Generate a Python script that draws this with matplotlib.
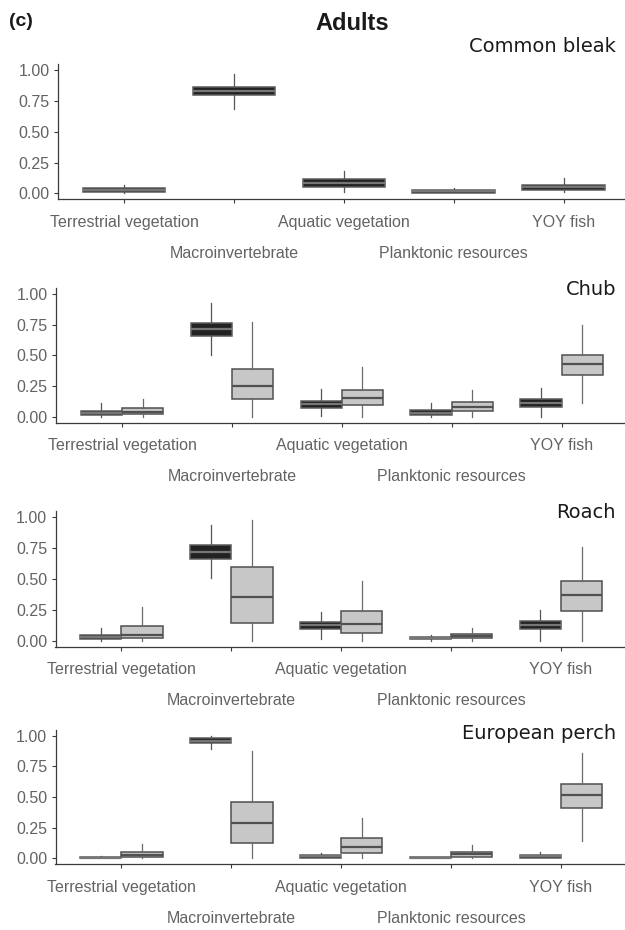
import matplotlib
matplotlib.use("Agg")
import matplotlib.pyplot as plt

# Diet categories (x axis)
categories = ["Terrestrial vegetation", "Macroinvertebrate", "Aquatic vegetation",
              "Planktonic resources", "YOY fish"]
species = ["Common bleak", "Chub", "Roach", "European perch"]

# Box statistics per category: [whisker low, Q1, median, Q3, whisker high]
bleak_dark = [[0.00, 0.010, 0.025, 0.040, 0.07],
              [0.685, 0.795, 0.834, 0.866, 0.97],
              [0.008, 0.055, 0.084, 0.114, 0.18],
              [0.00, 0.005, 0.015, 0.027, 0.045],
              [0.008, 0.030, 0.050, 0.070, 0.125]]

chub_dark = [[0.00, 0.011, 0.030, 0.049, 0.109],
             [0.50, 0.658, 0.712, 0.766, 0.93],
             [0.005, 0.071, 0.100, 0.130, 0.226],
             [0.00, 0.011, 0.030, 0.052, 0.111],
             [0.00, 0.076, 0.109, 0.144, 0.232]]
chub_light = [[0.00, 0.022, 0.038, 0.071, 0.142],
              [0.00, 0.142, 0.250, 0.391, 0.774],
              [0.00, 0.093, 0.152, 0.217, 0.403],
              [0.00, 0.046, 0.082, 0.117, 0.214],
              [0.109, 0.342, 0.430, 0.504, 0.747]]

roach_dark = [[0.00, 0.011, 0.030, 0.049, 0.105],
              [0.508, 0.665, 0.719, 0.773, 0.935],
              [0.016, 0.097, 0.125, 0.152, 0.233],
              [0.00, 0.011, 0.020, 0.030, 0.046],
              [0.00, 0.092, 0.125, 0.157, 0.249]]
roach_light = [[0.00, 0.022, 0.049, 0.119, 0.270],
               [0.00, 0.141, 0.352, 0.600, 0.978],
               [0.00, 0.060, 0.135, 0.238, 0.486],
               [0.00, 0.019, 0.036, 0.052, 0.103],
               [0.00, 0.243, 0.368, 0.486, 0.757]]

perch_dark = [[0.00, 0.002, 0.005, 0.010, 0.015],
              [0.890, 0.937, 0.956, 0.978, 0.998],
              [0.00, 0.005, 0.016, 0.027, 0.043],
              [0.00, 0.002, 0.005, 0.010, 0.012],
              [0.00, 0.003, 0.015, 0.027, 0.050]]
perch_light = [[0.00, 0.011, 0.030, 0.054, 0.117],
               [0.00, 0.122, 0.288, 0.459, 0.875],
               [0.00, 0.046, 0.092, 0.163, 0.331],
               [0.00, 0.013, 0.033, 0.054, 0.108],
               [0.141, 0.412, 0.518, 0.610, 0.858]]

y_ticks = [0.00, 0.25, 0.50, 0.75, 1.00]

panel_data = [
    (bleak_dark, None),
    (chub_dark, chub_light),
    (roach_dark, roach_light),
    (perch_dark, perch_light),
]

W, H = 625, 930
fig = plt.figure(figsize=(W / 100, H / 100), dpi=100)
fig.patch.set_facecolor("white")

# axes rectangles in pixels: left, top, bottom
rects = [(58, 64.0, 199.5), (56, 288.0, 422.8), (55.5, 511.1, 646.9), (55.5, 729.6, 864.4)]
title_y = [47, 289, 512, 733]

tick_color = "#636363"
spine_color = "#3a3a3a"
label_font = "Liberation Sans"

dark_style = dict(fill="#222222", edge="#5c5c5c", median="#767676", whisk="#555555")
light_style = dict(fill="#c7c7c7", edge="#505050", median="#505050", whisk="#6a6a6a")


def stats_from(rows):
    out = []
    for lo, q1, med, q3, hi in rows:
        out.append(dict(whislo=lo, q1=q1, med=med, q3=q3, whishi=hi, fliers=[]))
    return out


def draw_boxes(ax, rows, positions, width, style):
    ax.bxp(stats_from(rows), positions=positions, widths=width,
           patch_artist=True, showcaps=False, showfliers=False,
           boxprops=dict(facecolor=style["fill"], edgecolor=style["edge"], linewidth=1.1),
           medianprops=dict(color=style["median"], linewidth=1.6),
           whiskerprops=dict(color=style["whisk"], linewidth=0.9),
           manage_ticks=False, zorder=3)


for i, ((dark, light), (left, top, bottom)) in enumerate(zip(panel_data, rects)):
    width_px = 5.2 * 109.9
    ax = fig.add_axes([left / W, 1 - bottom / H, width_px / W, (bottom - top) / H])
    ax.set_xlim(0.4, 5.6)
    ax.set_ylim(-0.05, 1.05)
    pos = list(range(1, len(categories) + 1))
    if light is None:
        draw_boxes(ax, dark, pos, 0.75, dark_style)
    else:
        draw_boxes(ax, dark, [p - 0.1875 for p in pos], 0.375, dark_style)
        draw_boxes(ax, light, [p + 0.1875 for p in pos], 0.375, light_style)

    for s in ["top", "right"]:
        ax.spines[s].set_visible(False)
    for s in ["left", "bottom"]:
        ax.spines[s].set_color(spine_color)
        ax.spines[s].set_linewidth(0.9)

    ax.set_yticks(y_ticks)
    ax.set_yticklabels([f"{v:.2f}" for v in y_ticks], fontfamily=label_font,
                       fontsize=11.5, color=tick_color)
    ax.tick_params(axis="y", length=3, width=0.8, color=spine_color, pad=3)

    ax.set_xticks(pos[0::2])
    ax.set_xticklabels(categories[0::2], fontfamily=label_font, fontsize=11.5,
                       color=tick_color)
    ax.set_xticks(pos[1::2], minor=True)
    ax.set_xticklabels(categories[1::2], minor=True, fontfamily=label_font,
                       fontsize=11.5, color=tick_color)
    ax.tick_params(axis="x", which="major", length=3, width=0.8, color=spine_color, pad=8)
    ax.tick_params(axis="x", which="minor", length=3, width=0.8, color=spine_color, pad=30.5)

    fig.text(616 / W, 1 - title_y[i] / H, species[i], ha="right", va="center",
             fontfamily="DejaVu Sans", fontsize=14, color="#1a1a1a")

fig.text(21 / W, 1 - 21 / H, "(c)", ha="center", va="center",
         fontfamily=label_font, fontweight="bold", fontsize=14, color="#1a1a1a")
fig.text(352 / W, 1 - 23 / H, "Adults", ha="center", va="center",
         fontfamily=label_font, fontweight="bold", fontsize=17, color="#1a1a1a")

fig.savefig("out.png", dpi=100)
